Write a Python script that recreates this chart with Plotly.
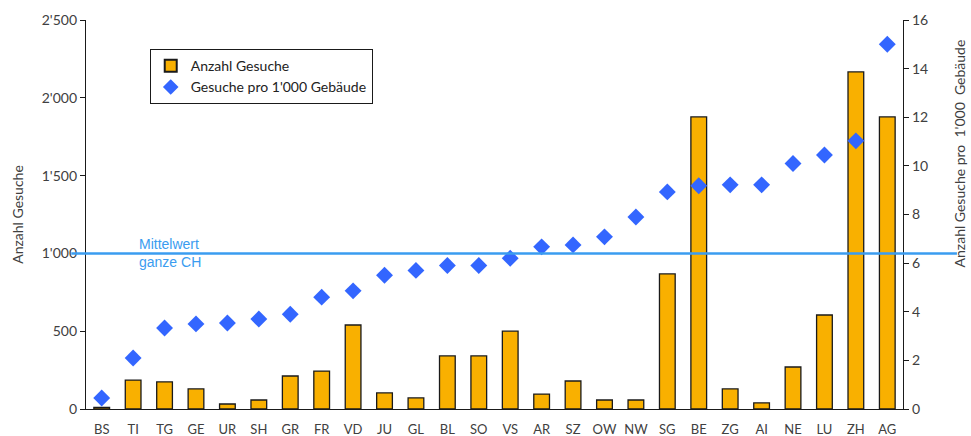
import plotly.graph_objects as go

# Kantone, sortiert nach Gesuchen pro 1'000 Gebäude
kantone = ["BS", "TI", "TG", "GE", "UR", "SH", "GR", "FR", "VD", "JU", "GL", "BL",
           "SO", "VS", "AR", "SZ", "OW", "NW", "SG", "BE", "ZG", "AI", "NE", "LU",
           "ZH", "AG"]

anzahl_gesuche = [10, 186, 174, 129, 32, 58, 212, 244, 540, 103, 71, 341,
                  341, 500, 96, 180, 58, 58, 868, 1877, 129, 39, 270, 604,
                  2166, 1877]

gesuche_pro_1000 = [0.45, 2.1, 3.33, 3.5, 3.54, 3.7, 3.9, 4.6, 4.86, 5.5, 5.7, 5.9,
                    5.9, 6.2, 6.67, 6.75, 7.08, 7.9, 8.93, 9.18, 9.22, 9.22, 10.1, 10.45,
                    11.03, 15.0]

mittelwert_ch = 1000

y_ticks = [0, 500, 1000, 1500, 2000, 2500]
y_ticktext = ["0", "500", "1'000", "1'500", "2'000", "2'500"]
y2_ticks = [0, 2, 4, 6, 8, 10, 12, 14, 16]

font_family = "Lato, 'Open Sans', sans-serif"
tick_color = "#404040"

fig = go.Figure()

fig.add_trace(go.Bar(
    x=kantone, y=anzahl_gesuche, name="Anzahl Gesuche",
    marker=dict(color="#f9b000", line=dict(color="#1a1a1a", width=1.3)),
    width=0.5, yaxis="y",
))

fig.add_trace(go.Scatter(
    x=kantone, y=gesuche_pro_1000, name="Gesuche pro 1'000 Gebäude",
    mode="markers", yaxis="y2",
    marker=dict(symbol="diamond", color="#3366ff", size=13, line=dict(width=0)),
))

# Mittelwert ganze Schweiz
fig.add_shape(type="line", xref="paper", yref="y",
              x0=-0.018, x1=1.066, y0=mittelwert_ch, y1=mittelwert_ch,
              line=dict(color="#3a9cf0", width=2.5), layer="above")
fig.add_annotation(xref="paper", yref="y", x=0.062, y=mittelwert_ch,
                   xanchor="left", yanchor="middle", showarrow=False, align="left",
                   text="Mittelwert<br>ganze CH",
                   font=dict(family="Arial, 'Liberation Sans', sans-serif",
                             size=14, color="#3a9cf0"))

# Titel der rechten Achse, nach oben versetzt
fig.add_annotation(xref="paper", yref="paper", x=1.069, y=0.658,
                   xanchor="center", yanchor="middle", showarrow=False,
                   textangle=-90, text="Anzahl Gesuche pro  1'000  Gebäude",
                   font=dict(size=14, color=tick_color))

fig.update_layout(
    width=971, height=436,
    margin=dict(l=86, r=68, t=20, b=27, autoexpand=False),
    paper_bgcolor="white", plot_bgcolor="white",
    font=dict(family=font_family, size=13, color=tick_color),
    bargap=0.5,
    showlegend=True,
    legend=dict(x=0.078, y=0.925, xanchor="left", yanchor="top",
                bgcolor="white", bordercolor="#1a1a1a", borderwidth=1,
                font=dict(size=14, color="#222222"),
                itemsizing="constant", tracegroupgap=2),
    xaxis=dict(
        type="category", showgrid=False, showline=True, linecolor="#1a1a1a",
        linewidth=1.3, ticks="", tickfont=dict(size=13, color=tick_color),
        range=[-0.5, len(kantone) - 0.5], zeroline=False,
        automargin=False, ticklabelstandoff=8,
    ),
    yaxis=dict(
        range=[0, 2500], tickvals=y_ticks, ticktext=y_ticktext,
        showgrid=False, showline=True, linecolor="#1a1a1a", linewidth=1.3,
        ticks="outside", ticklen=5, tickcolor="#1a1a1a",
        tickfont=dict(size=14, color=tick_color), zeroline=False,
        automargin=False,
        title=dict(text="Anzahl Gesuche", font=dict(size=14, color=tick_color),
                   standoff=14),
    ),
    yaxis2=dict(
        range=[0, 16], tickvals=y2_ticks, overlaying="y", side="right",
        showgrid=False, showline=True, linecolor="#1a1a1a", linewidth=1.3,
        ticks="outside", ticklen=5, tickcolor="#1a1a1a",
        tickfont=dict(size=14, color=tick_color), zeroline=False,
        automargin=False,
    ),
)

fig.write_html("out.html")
